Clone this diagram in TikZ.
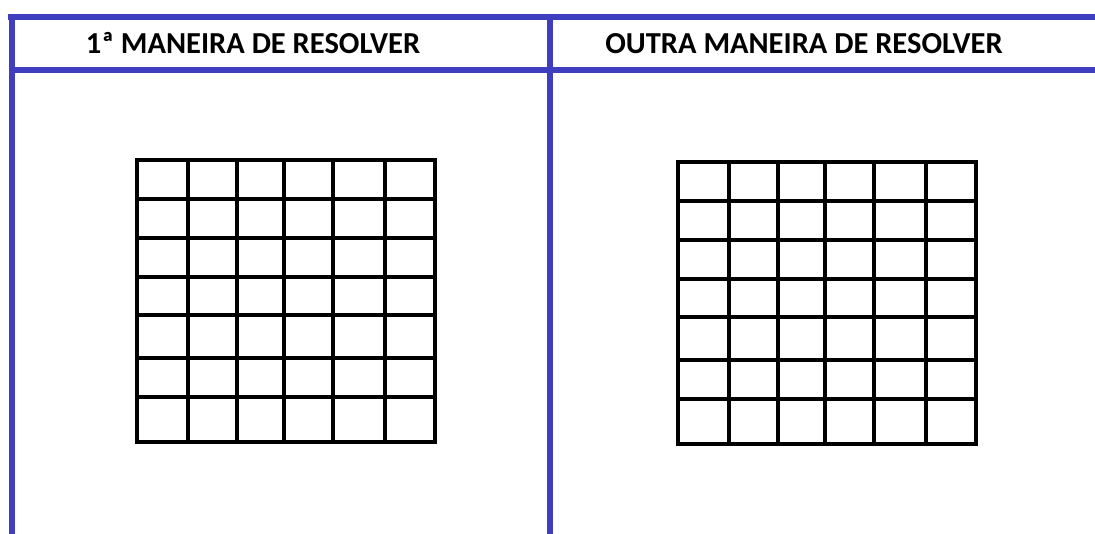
\documentclass[tikz,border=0pt]{standalone}
\usepackage{fontspec}
\setmainfont{Carlito}
\definecolor{frameblue}{RGB}{62,62,190}
\tikzset{
  frameline/.style={line width=6pt, frameblue},
  gridline/.style={line width=3.2pt, black},
  gridbold/.style={line width=4.5pt, black},
  headtext/.style={font=\bfseries\fontsize{30.5}{34}\selectfont, anchor=base}
}

\begin{document}
\begin{tikzpicture}[x=1pt,y=-1pt]
      \useasboundingbox (0,0) rectangle (1095,534);

      % Frame
      \coordinate (ftl) at (8,17);
      \coordinate (ftr) at (1095,17);
      \coordinate (fl) at (12,17);
      \coordinate (fbl) at (12,534);
      \coordinate (fm) at (550,17);
      \coordinate (fbm) at (550,534);
      \coordinate (hl) at (12,70);
      \coordinate (hr) at (1095,70);
      \draw[frameline] (ftl) -- (ftr);
      \draw[frameline] (fl) -- (fbl);
      \draw[frameline] (fm) -- (fbm);
      \draw[frameline] (hl) -- (hr);

      % Headers
      \node[headtext] (head1) at (253,54) {1ª MANEIRA DE RESOLVER};
      \node[headtext] (head2) at (804,54) {OUTRA MANEIRA DE RESOLVER};

      % Grids (6 columns, 7 rows)
      \foreach \ox/\oy [count=\g] in {137/160, 678/162}
      {
        \begin{scope}[shift={(\ox,\oy)}]
          \foreach \vx in {51,147,196,248}
            \draw[gridline] (\vx,0) -- (\vx,282);
          \foreach \hy in {39,78,117,198,237}
            \draw[gridline] (0,\hy) -- (298,\hy);
          \draw[gridbold] (100,0) -- (100,282);
          \draw[gridbold] (0,155) -- (298,155);
          \draw[gridbold] (0,0) rectangle (298,282);
        \end{scope}
      }
    \end{tikzpicture}
\end{document}
